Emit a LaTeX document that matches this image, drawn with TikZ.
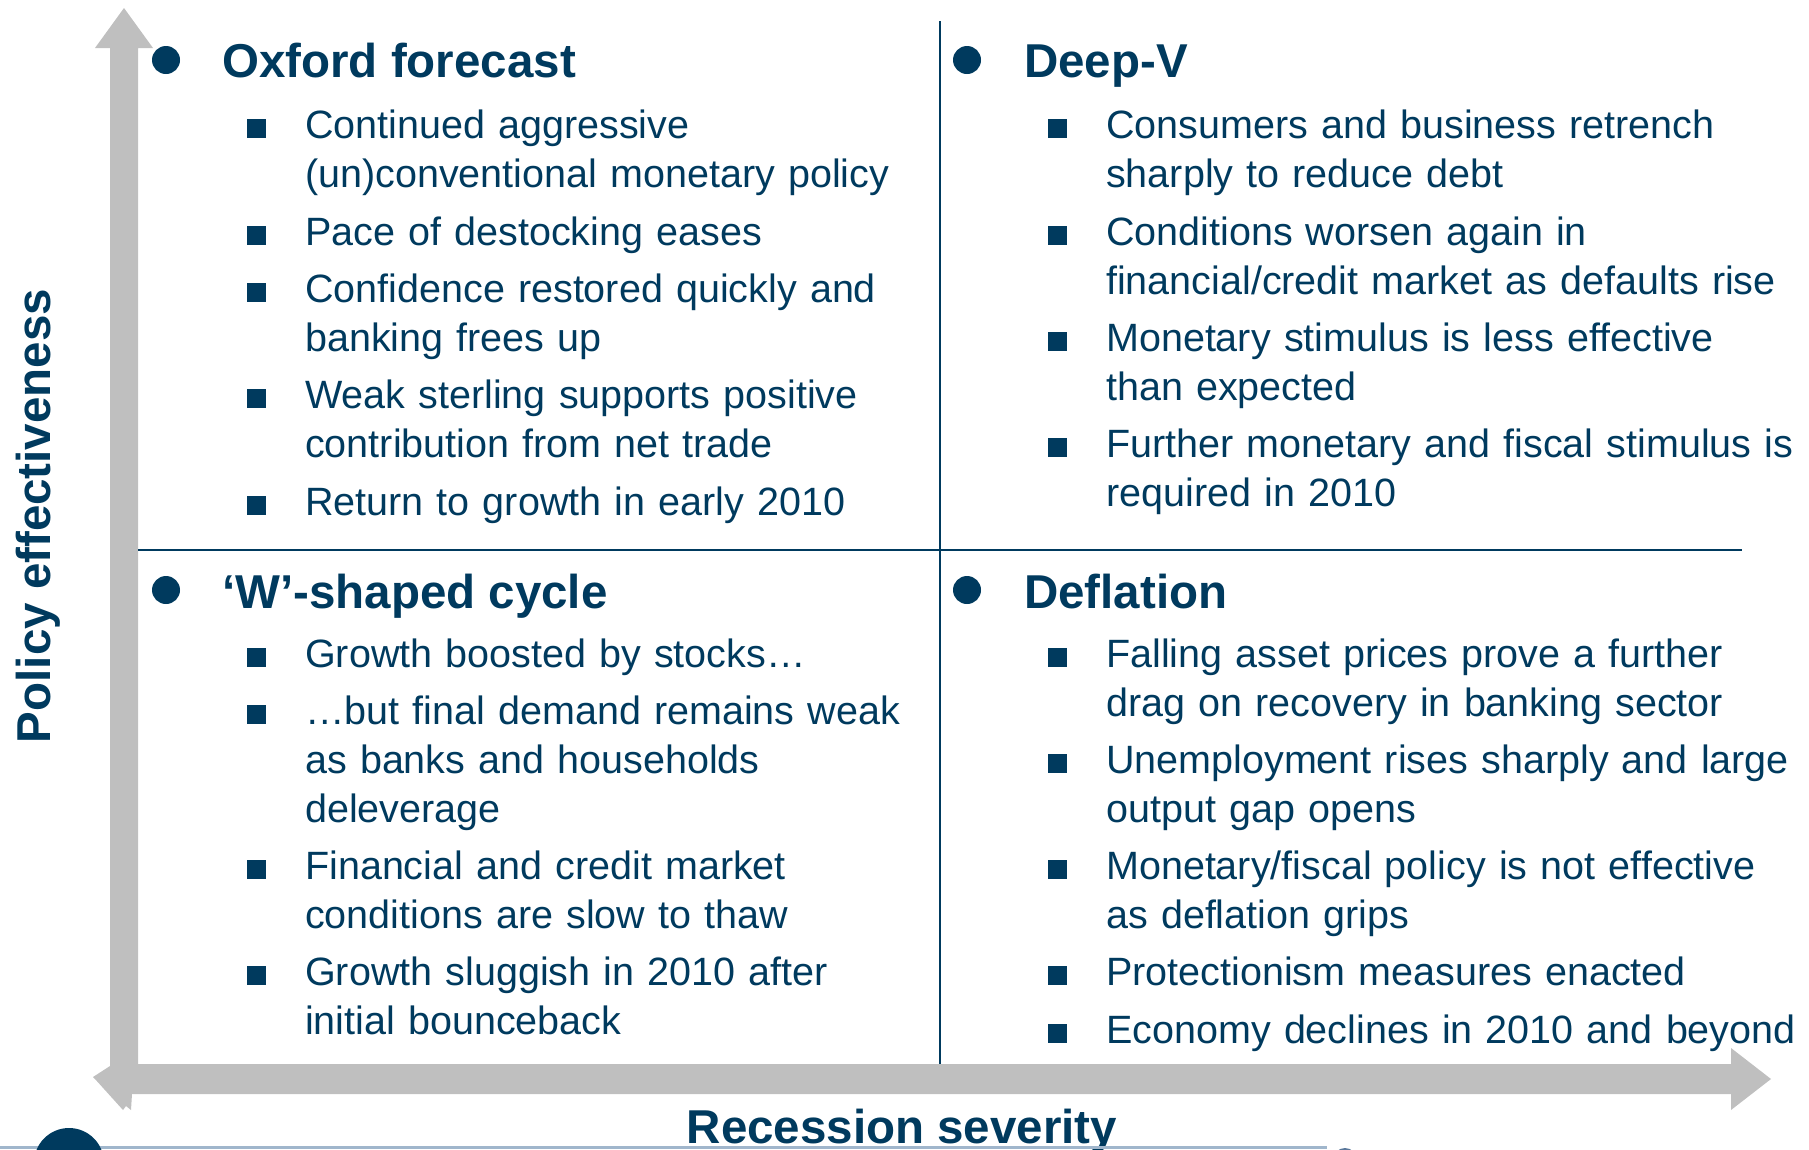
\documentclass[tikz,border=0pt]{standalone}
\usepackage{fontspec}
\setmainfont{Liberation Sans}
\definecolor{navy}{RGB}{0,58,94}
\definecolor{axisgray}{RGB}{191,191,191}
\definecolor{rulegray}{RGB}{160,182,204}
\definecolor{midblue}{RGB}{90,120,155}
\begin{document}
\begin{tikzpicture}[x=1pt,y=-1pt,
			head node/.style={anchor=base west,inner sep=0,text=navy,font=\fontsize{47.5}{57}\selectfont\bfseries},
			item node/.style={anchor=base west,inner sep=0,text=navy,text width=720pt,align=left,font=\fontsize{39.5}{49}\selectfont},
			dot node/.style={circle,fill=navy,minimum size=28pt,inner sep=0},
			square node/.style={rectangle,fill=navy,minimum size=19pt,inner sep=0}]
			
			\useasboundingbox (0,0) rectangle (1809,1149);
			\clip (0,0) rectangle (1809,1149);
			
			% axes
			\fill[axisgray] (124,8) -- (153,48) -- (138,48) -- (138,1064) -- (1731,1064) -- (1731,1048)
			-- (1771,1079) -- (1731,1110) -- (1731,1094) -- (132,1094) -- (131,1110) -- (126,1106)
			-- (123,1110) -- (95,1079) -- (93,1077) -- (110,1066) -- (110,48) -- (95,48) -- cycle;
			
			\draw[navy,line width=2pt] (940,21) -- (940,1064);
			\draw[navy,line width=2pt] (138,550) -- (1742,550);
			
			\node[font=\fontsize{47.5}{57}\selectfont\bfseries,text=navy,rotate=90,anchor=base,inner sep=0] (ylab) at (50,516) {Policy effectiveness};
			\node[font=\fontsize{47.5}{57}\selectfont\bfseries,text=navy,anchor=base,inner sep=0] (xlab) at (902,1143) {Recession severity};
			
			% headings
			\node[dot node] (d1) at (166,60) {};
			\node[head node] (oxf) at (222,77) {Oxford forecast};
			\node[dot node] (d2) at (967,60) {};
			\node[head node] (dv) at (1024,77) {Deep-V};
			\node[dot node] (d3) at (166,590) {};
			\node[head node] (ws) at (222,608) {‘W’-shaped cycle};
			\node[dot node] (d4) at (967,590) {};
			\node[head node] (df) at (1024,608) {Deflation};
			
			% items
			\foreach \k/\y/\t in {1/138/{Continued aggressive\\(un)conventional monetary policy},
				2/245/{Pace of destocking eases},
				3/302/{Confidence restored quickly and\\banking frees up},
				4/408/{Weak sterling supports positive\\contribution from net trade},
				5/515/{Return to growth in early 2010}}{
				\node[square node] (oxb\k) at (256.5,\y-10) {};
				\node[item node] (ox\k) at (305,\y) {\t};
			}
			\foreach \k/\y/\t in {1/138/{Consumers and business retrench\\sharply to reduce debt},
				2/245/{Conditions worsen again in\\financial/credit market as defaults rise},
				3/351/{Monetary stimulus is less effective\\than expected},
				4/457/{Further monetary and fiscal stimulus is\\required in 2010}}{
				\node[square node] (dvb\k) at (1057,\y-10) {};
				\node[item node] (dv\k) at (1106,\y) {\t};
			}
			\foreach \k/\y/\t in {1/667/{Growth boosted by stocks…},
				2/724/{…but final demand remains weak\\as banks and households\\deleverage},
				3/879/{Financial and credit market\\conditions are slow to thaw},
				4/985/{Growth sluggish in 2010 after\\initial bounceback}}{
				\node[square node] (wsb\k) at (256.5,\y-10) {};
				\node[item node] (ws\k) at (305,\y) {\t};
			}
			\foreach \k/\y/\t in {1/667/{Falling asset prices prove a further\\drag on recovery in banking sector},
				2/773/{Unemployment rises sharply and large\\output gap opens},
				3/879/{Monetary/fiscal policy is not effective\\as deflation grips},
				4/985/{Protectionism measures enacted},
				5/1043/{Economy declines in 2010 and beyond}}{
				\node[square node] (dfb\k) at (1057,\y-10) {};
				\node[item node] (df\k) at (1106,\y) {\t};
			}
			
			% bottom edge
			\draw[rulegray,line width=3pt] (0,1147.5) -- (1327,1147.5);
			\fill[navy] (69,1163) circle[radius=35pt];
			\fill[midblue] (1345,1160) circle[radius=12pt];
			\end{tikzpicture}
\end{document}
